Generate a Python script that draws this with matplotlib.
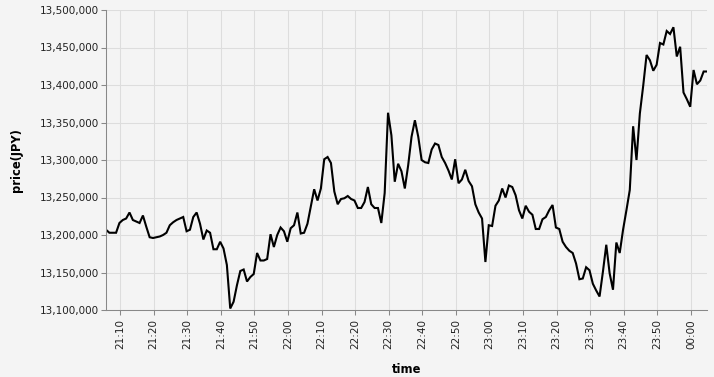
import matplotlib
matplotlib.use("Agg")
import matplotlib.pyplot as plt
import matplotlib.dates as mdates
from matplotlib.ticker import FuncFormatter, MultipleLocator
import pandas as pd

# one price per minute, 21:05:48 -> 00:04:48
start = "2024-01-01 21:05:48"
price_k = [
    # 21:05 - 21:59
    13207, 13203, 13203, 13203, 13216, 13220, 13222, 13230, 13220, 13218,
    13216, 13226, 13211, 13197, 13196, 13197, 13198, 13200, 13203, 13213,
    13217, 13220, 13222, 13224, 13205, 13207, 13224, 13230, 13215, 13194,
    13206, 13203, 13181, 13181, 13191, 13182, 13160, 13102, 13111, 13133,
    13152, 13154, 13138, 13144, 13148, 13176, 13166, 13166, 13168, 13201,
    13184, 13200, 13210, 13205, 13191,
    # 22:00 - 22:59
    13209, 13213, 13230, 13202, 13203, 13215, 13238, 13261, 13246, 13262,
    13301, 13304, 13296, 13258, 13241, 13248, 13249, 13252, 13248, 13246,
    13236, 13236, 13244, 13264, 13241, 13236, 13236, 13216, 13256, 13363,
    13333, 13271, 13295, 13285, 13262, 13293, 13331, 13353, 13331, 13300,
    13297, 13296, 13314, 13322, 13320, 13304, 13296, 13286, 13274, 13301,
    13269, 13274, 13287, 13272, 13265, 13241, 13230, 13222, 13164, 13213,
    # 23:00 - 23:59
    13212, 13239, 13246, 13262, 13250, 13266, 13264, 13253, 13233, 13222,
    13239, 13231, 13227, 13208, 13208, 13221, 13224, 13233, 13240, 13210,
    13208, 13191, 13184, 13179, 13176, 13162, 13141, 13142, 13157, 13153,
    13135, 13126, 13118, 13151, 13187, 13149, 13127, 13190, 13176, 13207,
    13233, 13260, 13345, 13300, 13362, 13399, 13440, 13433, 13419, 13427,
    13456, 13454, 13472, 13468, 13477, 13438, 13451, 13390, 13381, 13371,
    # 00:00 - 00:04
    13420, 13401, 13406, 13418, 13418,
]

times = pd.date_range(start, periods=len(price_k), freq="1min")
prices = [p * 1000 for p in price_k]

bg = "#f4f4f4"
grid_c = "#dddddd"
axis_c = "#888888"

fig = plt.figure(figsize=(7.14, 3.77), dpi=100, facecolor=bg)
ax = fig.add_axes([106 / 714, 1 - 310 / 377, 601 / 714, 300 / 377])
ax.set_facecolor(bg)

ax.plot(times, prices, color="black", linewidth=1.5, solid_joinstyle="miter")

ax.set_xlim(times[0], times[-1])
ax.set_ylim(13100000, 13500000)

ax.yaxis.set_major_locator(MultipleLocator(50000))
ax.yaxis.set_major_formatter(FuncFormatter(lambda v, p: f"{v:,.0f}"))
ax.xaxis.set_major_locator(mdates.MinuteLocator(byminute=range(0, 60, 10)))
ax.xaxis.set_major_formatter(mdates.DateFormatter("%H:%M"))

ax.grid(True, color=grid_c, linewidth=0.75)
ax.set_axisbelow(True)

for s in ["top", "right"]:
    ax.spines[s].set_visible(False)
for s in ["left", "bottom"]:
    ax.spines[s].set_color(axis_c)
    ax.spines[s].set_linewidth(0.75)

ax.tick_params(axis="both", color=axis_c, width=0.75, length=3.6,
               labelsize=7.5, labelcolor="#222222")
ax.tick_params(axis="y", pad=1.5)
ax.tick_params(axis="x", pad=3, labelrotation=90)

ax.set_xlabel("time", fontsize=8.3, fontweight="bold", labelpad=10)
ax.set_ylabel("price(JPY)", fontsize=8.3, fontweight="bold", labelpad=12)

fig.savefig("out.png", dpi=100, facecolor=bg)
